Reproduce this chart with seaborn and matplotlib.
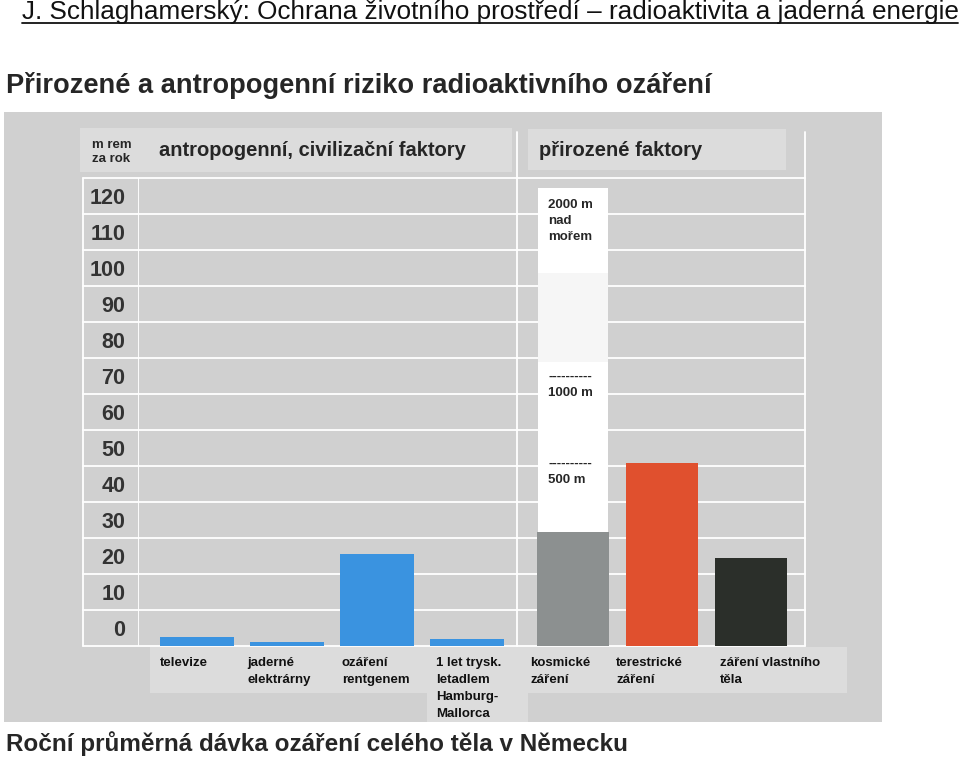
import matplotlib
matplotlib.use("Agg")
import matplotlib.pyplot as plt
import matplotlib.transforms as mtransforms
from matplotlib.patches import Rectangle
from matplotlib.lines import Line2D
import seaborn as sns

# ---------------- data ----------------
anthro_categories = ["televize", "jaderné\nelektrárny", "ozáření\nrentgenem",
                     "1 let trysk.\nletadlem\nHamburg-\nMallorca"]
anthro_values = [2.5, 1.1, 25.6, 2.0]
anthro_colors = ["#3a93e0", "#3a93e0", "#3a93e0", "#3a93e0"]

natural_categories = ["kosmické\nzáření", "terestrické\nzáření", "záření vlastního\ntěla"]
natural_values = [31.7, 50.8, 24.4]
natural_colors = ["#8c9090", "#e0502e", "#2b2f2a"]

# cosmic radiation at altitude (white overlay column)
altitude_tops = [127.2, 103.6, 78.9]
altitude_colors = ["#ffffff", "#f6f6f6", "#ffffff"]

ytick_values = [0, 10, 20, 30, 40, 50, 60, 70, 80, 90, 100, 110, 120]
grid_levels = list(range(0, 131, 10))

title = "J. Schlaghamerský: Ochrana životního prostředí – radioaktivita a jaderná energie"
subtitle = "Přirozené a antropogenní riziko radioaktivního ozáření"
caption = "Roční průměrná dávka ozáření celého těla v Německu"

# ---------------- figure ----------------
sns.set_style("white")
plt.rcParams["font.family"] = ["Liberation Sans", "DejaVu Sans"]
NARROW = ["Liberation Sans Narrow", "Liberation Sans", "DejaVu Sans"]

W, H = 960, 759
fig = plt.figure(figsize=(W / 100, H / 100), dpi=100)
fig.patch.set_facecolor("white")


def fx(x):
    return x / W


def fy(y):
    return 1 - y / H


def frect(x0, y0, x1, y1, color, z):
    r = Rectangle((fx(x0), fy(y1)), (x1 - x0) / W, (y1 - y0) / H,
                  transform=fig.transFigure, facecolor=color, edgecolor="none", zorder=z)
    fig.add_artist(r)


# panel background and header/label boxes
frect(4, 112, 882, 722, "#d0d0d0", -3)
frect(80, 128, 512, 172, "#dcdcdc", -2)
frect(528, 129, 786, 170, "#dcdcdc", -2)
frect(150, 647, 847, 693, "#dcdcdc", -2)
frect(427, 647, 528, 722, "#dcdcdc", -2)

# axes
y0_px, y1_px = 646, 178
ax_l = fig.add_axes([fx(138), fy(y0_px), (517 - 138) / W, (y0_px - y1_px) / H])
ax_r = fig.add_axes([fx(517), fy(y0_px), (805 - 517) / W, (y0_px - y1_px) / H], sharey=ax_l)
for ax in (ax_l, ax_r):
    ax.set_facecolor("none")
    for s in ax.spines.values():
        s.set_visible(False)

sns.barplot(x=anthro_categories, y=anthro_values, hue=anthro_categories,
            palette=anthro_colors, legend=False, ax=ax_l, width=0.82,
            saturation=1, linewidth=0)

# altitude overlay for cosmic radiation, then the actual bars
for top, col in zip(altitude_tops, altitude_colors):
    sns.barplot(x=[natural_categories[0]], y=[top], order=natural_categories,
                color=col, ax=ax_r, width=0.79, saturation=1, linewidth=0)
sns.barplot(x=natural_categories, y=natural_values, hue=natural_categories,
            palette=natural_colors, legend=False, ax=ax_r, width=0.80,
            saturation=1, linewidth=0)

ax_l.set_ylim(0, 130)
ax_l.set_xlim(-0.656, 3.556)
ax_r.set_xlim(-0.63, 2.606)

# grid lines (white) and frame lines
ext = (138 - 83) / (517 - 138)
for g in grid_levels:
    ax_l.axhline(g, xmin=-ext, xmax=1, color="white", lw=1.3, zorder=0, clip_on=False)
    ax_r.axhline(g, xmin=0, xmax=1, color="white", lw=1.3, zorder=0, clip_on=False)
ax_l.axvline(-0.656, color="white", lw=1.3, zorder=0)
ax_l.axvline(-0.656 - 55 / 90, color="white", lw=1.3, zorder=0, clip_on=False)
hdr = (646 - 132) / 468
ax_r.axvline(-0.63, ymin=0, ymax=hdr, color="white", lw=1.3, zorder=0, clip_on=False)
ax_r.axvline(2.606, ymin=0, ymax=hdr, color="white", lw=1.3, zorder=0, clip_on=False)

# y tick labels centred in the bands
ax_l.set_yticks([v + 5 for v in ytick_values])
ax_l.set_yticklabels([str(v) for v in ytick_values], fontsize=15.5, fontweight="bold",
                     color="#333333")
ax_l.tick_params(axis="y", length=0, pad=9)
ax_r.tick_params(axis="y", left=False, labelleft=False, length=0)

# category labels
for ax, cats in ((ax_l, anthro_categories), (ax_r, natural_categories)):
    ax.set_xlabel("")
    ax.set_ylabel("")
    ax.set_xticks(range(len(cats)))
    ax.set_xticklabels(cats, ha="left", fontsize=9.5, fontweight="bold",
                       family=NARROW, linespacing=1.55, color="#111111")
    ax.tick_params(axis="x", length=0, pad=8)
offsets_l = [-37, -40, -35, -31]
offsets_r = [-43, -46, -31]
for ax, offs in ((ax_l, offsets_l), (ax_r, offsets_r)):
    for lab, o in zip(ax.get_xticklabels(), offs):
        lab.set_transform(lab.get_transform() +
                          mtransforms.ScaledTranslation(o / 100, 0, fig.dpi_scale_trans))

# texts in the altitude column
tr = mtransforms.blended_transform_factory(ax_r.transData, ax_r.transData)
ax_r.text(-0.28, 124.3, "2000 m\nnad\nmořem", transform=tr, ha="left", va="top",
          fontsize=9.5, fontweight="bold", family=NARROW, linespacing=1.45, zorder=10)
ax_r.text(-0.28, 76.4, "----------\n1000 m", transform=tr, ha="left", va="top",
          fontsize=9.5, fontweight="bold", family=NARROW, linespacing=1.45, zorder=10)
ax_r.text(-0.28, 52.3, "----------\n500 m", transform=tr, ha="left", va="top",
          fontsize=9.5, fontweight="bold", family=NARROW, linespacing=1.45, zorder=10)

# header texts
fig.text(fx(92), fy(152), "m rem\nza rok", ha="left", va="center", fontsize=9.5,
         fontweight="bold", family=NARROW, linespacing=1.3)
fig.text(fx(159), fy(151), "antropogenní, civilizační faktory", ha="left", va="center",
         fontsize=14.5, fontweight="bold", family=NARROW)
fig.text(fx(539), fy(151), "přirozené faktory", ha="left", va="center",
         fontsize=14.5, fontweight="bold", family=NARROW)

# titles
fig.text(fx(22), fy(19), title, ha="left", va="baseline", fontsize=18.8, color="#111111")
fig.add_artist(Line2D([fx(22), fx(958)], [fy(23), fy(23)], transform=fig.transFigure,
                      color="#111111", lw=1.3))
fig.text(fx(6), fy(93), subtitle, ha="left", va="baseline", fontsize=19.6,
         fontweight="bold")
fig.text(fx(6), fy(751), caption, ha="left", va="baseline", fontsize=17.5,
         fontweight="bold")

fig.savefig("out.png", dpi=100)
